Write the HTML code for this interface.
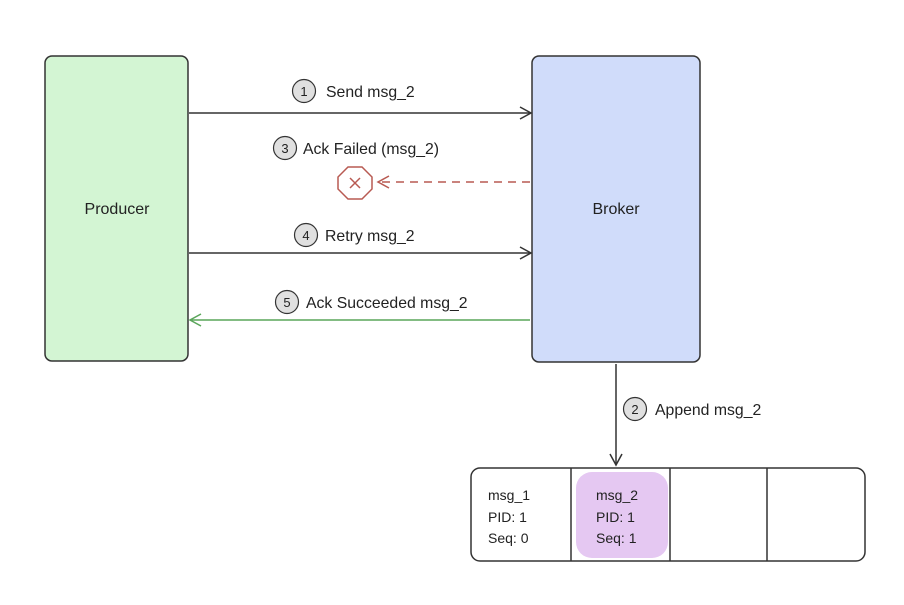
<!DOCTYPE html>
<html><head><style>body{margin:0;background:#fff}</style></head><body>
<svg width="904" height="600" xmlns="http://www.w3.org/2000/svg" font-family="Liberation Sans, sans-serif">
<rect width="904" height="600" fill="#fff"/>
<rect x="45" y="56" width="143" height="305" rx="7" fill="#d3f5d3" stroke="#333" stroke-width="1.5"/>
<text x="117" y="214" font-size="16" text-anchor="middle" fill="#222">Producer</text>
<rect x="532" y="56" width="168" height="306" rx="7" fill="#d0dcfa" stroke="#333" stroke-width="1.5"/>
<text x="616" y="214" font-size="16" text-anchor="middle" fill="#222">Broker</text>
<g stroke="#333" stroke-width="1.5" fill="none">
<line x1="189" y1="113" x2="530" y2="113"/><polyline points="520,107 531,113 520,119"/>
<line x1="189" y1="253" x2="530" y2="253"/><polyline points="520,247 531,253 520,259"/>
<line x1="616" y1="364" x2="616" y2="464"/><polyline points="610,454 616,465 622,454"/>
</g>
<line x1="530" y1="182" x2="380" y2="182" stroke="#b85a52" stroke-width="1.5" stroke-dasharray="8,6"/>
<polyline points="389,176 378,182 389,188" fill="none" stroke="#b85a52" stroke-width="1.5"/>
<polygon points="348,167 362,167 372,177 372,189 362,199 348,199 338,189 338,177" fill="#fff" stroke="#b85a52" stroke-width="1.5"/>
<path d="M350,178 l10,10 M360,178 l-10,10" stroke="#b85a52" stroke-width="1.5"/>
<line x1="530" y1="320" x2="191" y2="320" stroke="#5aa55a" stroke-width="1.5"/>
<polyline points="201,314 190,320 201,326" fill="none" stroke="#5aa55a" stroke-width="1.5"/>
<g fill="#e0e0e0" stroke="#333" stroke-width="1.2">
<circle cx="304" cy="91" r="11.5"/><circle cx="285" cy="148" r="11.5"/><circle cx="306" cy="235" r="11.5"/><circle cx="287" cy="302" r="11.5"/><circle cx="635" cy="409" r="11.5"/>
</g>
<g font-size="13" text-anchor="middle" fill="#222">
<text x="304" y="96">1</text><text x="285" y="153">3</text><text x="306" y="240">4</text><text x="287" y="307">5</text><text x="635" y="414">2</text>
</g>
<g font-size="15.8" fill="#222">
<text x="326" y="97">Send msg_2</text>
<text x="303" y="154">Ack Failed (msg_2)</text>
<text x="325" y="241">Retry msg_2</text>
<text x="306" y="308">Ack Succeeded msg_2</text>
<text x="655" y="415">Append msg_2</text>
</g>
<rect x="471" y="468" width="394" height="93" rx="9" fill="#fff" stroke="#333" stroke-width="1.5"/>
<rect x="576" y="472" width="92" height="86" rx="16" fill="#e5c8f2"/>
<g stroke="#333" stroke-width="1.5"><line x1="571" y1="468" x2="571" y2="561"/><line x1="670" y1="468" x2="670" y2="561"/><line x1="767" y1="468" x2="767" y2="561"/></g>
<g font-size="14" fill="#222">
<text x="488" y="500">msg_1</text><text x="488" y="522">PID: 1</text><text x="488" y="543">Seq: 0</text>
<text x="596" y="500">msg_2</text><text x="596" y="522">PID: 1</text><text x="596" y="543">Seq: 1</text>
</g>
</svg>
</body></html>
